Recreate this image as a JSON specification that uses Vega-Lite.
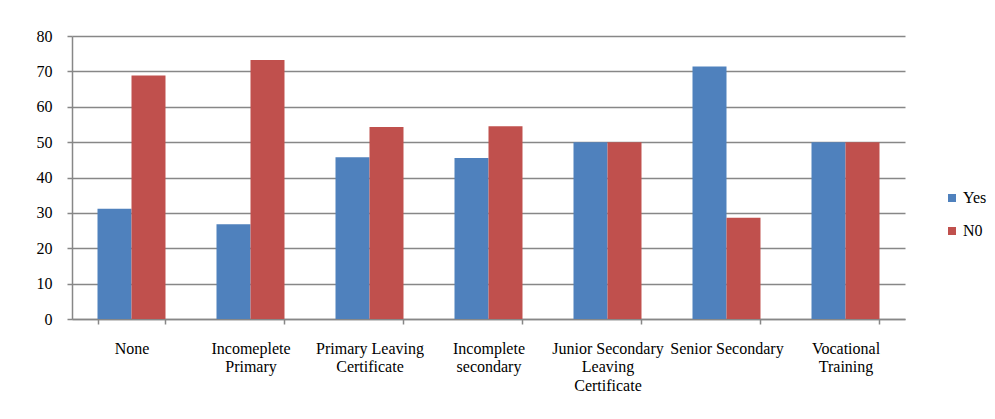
{
  "$schema": "https://vega.github.io/schema/vega-lite/v6.json",
  "autosize": "none",
  "width": 833,
  "height": 283,
  "padding": {"left": 72, "top": 36, "right": 90, "bottom": 100},
  "background": "white",
  "config": {
    "view": {"stroke": null},
    "font": "Times New Roman, Liberation Serif, serif",
    "axis": {"labelFont": "Times New Roman, Liberation Serif, serif", "labelFontSize": 16, "labelColor": "black", "domainColor": "#878787", "tickColor": "#878787", "gridColor": "#878787", "domainWidth": 1.5, "tickWidth": 1.5, "gridWidth": 1.5},
    "legend": {"labelFont": "Times New Roman, Liberation Serif, serif"}
  },
  "data": {
    "values": [
      {"level": "None", "answer": "Yes", "pct": 31.2},
      {"level": "None", "answer": "N0", "pct": 68.8},
      {"level": "Incomeplete Primary", "answer": "Yes", "pct": 26.8},
      {"level": "Incomeplete Primary", "answer": "N0", "pct": 73.2},
      {"level": "Primary Leaving Certificate", "answer": "Yes", "pct": 45.7},
      {"level": "Primary Leaving Certificate", "answer": "N0", "pct": 54.3},
      {"level": "Incomplete secondary", "answer": "Yes", "pct": 45.5},
      {"level": "Incomplete secondary", "answer": "N0", "pct": 54.5},
      {"level": "Junior Secondary Leaving Certificate", "answer": "Yes", "pct": 50},
      {"level": "Junior Secondary Leaving Certificate", "answer": "N0", "pct": 50},
      {"level": "Senior Secondary", "answer": "Yes", "pct": 71.4},
      {"level": "Senior Secondary", "answer": "N0", "pct": 28.6},
      {"level": "Vocational Training", "answer": "Yes", "pct": 50},
      {"level": "Vocational Training", "answer": "N0", "pct": 50}
    ]
  },
  "mark": {"type": "bar"},
  "encoding": {
    "x": {
      "field": "level",
      "type": "nominal",
      "sort": null,
      "scale": {"paddingInner": 0.4286, "paddingOuter": 0.2143},
      "axis": {
        "title": null,
        "labelAngle": 0,
        "tickBand": "extent",
        "tickSize": 5,
        "labelPadding": 16,
        "labelLineHeight": 18.5,
        "labelExpr": "datum.value == 'Incomeplete Primary' ? ['Incomeplete', 'Primary'] : datum.value == 'Primary Leaving Certificate' ? ['Primary Leaving', 'Certificate'] : datum.value == 'Incomplete secondary' ? ['Incomplete', 'secondary'] : datum.value == 'Junior Secondary Leaving Certificate' ? ['Junior Secondary', 'Leaving', 'Certificate'] : datum.value == 'Vocational Training' ? ['Vocational', 'Training'] : datum.value"
      }
    },
    "xOffset": {"field": "answer", "type": "nominal", "sort": ["Yes", "N0"], "scale": {"paddingInner": 0, "paddingOuter": 0}},
    "y": {
      "field": "pct",
      "type": "quantitative",
      "scale": {"domain": [0, 80], "nice": false},
      "axis": {"title": null, "values": [0, 10, 20, 30, 40, 50, 60, 70, 80], "tickSize": 5, "labelPadding": 15, "grid": true}
    },
    "color": {
      "field": "answer",
      "type": "nominal",
      "sort": ["Yes", "N0"],
      "scale": {"domain": ["Yes", "N0"], "range": ["#4F81BD", "#C0504D"]},
      "legend": {
        "title": null,
        "orient": "none",
        "legendX": 872,
        "legendY": 154,
        "symbolType": "square",
        "symbolSize": 64,
        "symbolStrokeWidth": 0,
        "labelFont": "Times New Roman, Liberation Serif, serif",
        "labelFontSize": 16,
        "labelColor": "black",
        "labelOffset": 3,
        "rowPadding": 17
      }
    }
  }
}
